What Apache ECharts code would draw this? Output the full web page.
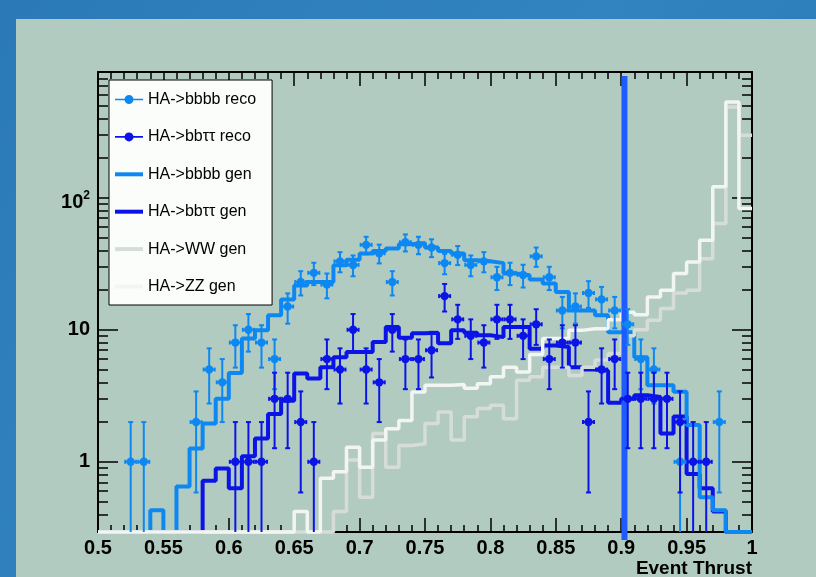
<!DOCTYPE html>
<html><head><meta charset="utf-8">
<script src="https://cdn.jsdelivr.net/npm/echarts@6/dist/echarts.min.js"></script>
<style>html,body{margin:0;padding:0;width:816px;height:577px;overflow:hidden}#c{width:816px;height:577px}</style>
</head><body><div id="c"></div>
<script>
// ---- data (bins of width 0.01, lower edges) ----
const binLowEdges = [0.50,0.51,0.52,0.53,0.54,0.55,0.56,0.57,0.58,0.59,
  0.60,0.61,0.62,0.63,0.64,0.65,0.66,0.67,0.68,0.69,
  0.70,0.71,0.72,0.73,0.74,0.75,0.76,0.77,0.78,0.79,
  0.80,0.81,0.82,0.83,0.84,0.85,0.86,0.87,0.88,0.89,
  0.90,0.91,0.92,0.93,0.94,0.95,0.96,0.97,0.98,0.99];
const binWidth = 0.01;

const bbbbReco = [0,0,1,1,0,0,0,2,5,4,
  8,10,8,6,15,23,27,22,33,31,
  44,38,23,46,44,42,32,37,31,33,
  25,27,26,36,25,14,15,19,17,14,
  11,6,5,0,1,0,0,2,0,0];
const bbttReco = [0,0,0,0,0,0,0,0,0,0,
  1,1,1,3,3,2,1,6,5,10,
  5,4,10,6,6,7,18,12,9,8,
  12,12,9,11,6,8,8,2,5,6,
  3,3,3,3,2,1,1,0,0,0];
const bbbbGen = [0,0,0,0,0.43,0,0.65,1.26,1.95,3.0,
  4.7,8.6,9.9,12.9,17,21.7,23,23,30.8,34,
  37.8,39.5,41.2,44.4,45.5,42,39.5,37.8,33.6,33,
  32,26.7,25.9,24,22.4,19.3,14,14,12.9,9.6,
  9.6,6.2,3.8,3.8,3.4,1.9,0.54,0.43,0,0];
const bbttGen = [0,0,0,0,0,0,0,0,0.72,0.89,
  0.63,1.1,1.5,2.3,2.9,4.66,4.27,5.2,6.2,6.8,
  6.8,8.1,10.5,8.7,9.4,9.5,7.9,9.9,9.5,9.1,
  8.8,10.5,10.5,7.2,7.6,7.4,5.2,5.0,4.9,2.8,
  3.0,3.2,3.1,1.64,2.2,0.81,0.63,0.42,0,0];
const wwGen = [0,0,0,0,0,0,0,0,0,0,
  0,0,0,0,0,0,0,0,0.42,1.03,
  0.54,1.64,0.91,1.33,1.37,1.95,2.38,1.46,2.19,2.53,
  2.68,2.12,4.14,4.4,5.2,5.2,4.5,5.2,5.9,6.6,
  9,10,11.8,14.5,19,19.9,34.6,63.8,488,297];
const zzGen = [0,0,0,0,0,0,0,0,0,0,
  0,0,0,0,0,0.42,0,0.75,0.84,1.29,
  0.91,1.46,1.78,2.06,3.38,3.8,3.8,3.85,3.6,3.9,
  4.4,5.2,4.8,6.5,8.6,8.6,9.9,10.2,10.2,11.9,
  13.6,13,17.7,19.9,26.7,32.6,47.6,121,532,82.8];

const cutValue = 0.9025;           // vertical cut line position
const cutLineRange = [0.256, 837]; // its vertical extent
const xMin = 0.5, xMax = 1.0, xInterval = 0.05;
const yMin = 0.294, yMax = 897;
const yMajorTicks = [1, 10, 100];
const yMinorTicks = [0.3,0.4,0.5,0.6,0.7,0.8,0.9,2,3,4,5,6,7,8,9,
  20,30,40,50,60,70,80,90,200,300,400,500,600,700,800];

// ---- helpers ----
const FONT = 'Liberation Sans, Arial, Helvetica, sans-serif';
function stepData(vals){
  const d = binLowEdges.map((e,i)=>[e, vals[i] > 0 ? vals[i] : yMin]);
  d.push([xMax, vals[vals.length-1] > 0 ? vals[vals.length-1] : yMin]);
  return d;
}
function recoData(counts){
  const out = [];
  counts.forEach((n,i)=>{ if(n>0) out.push([binLowEdges[i] + binWidth/2, n]); });
  return out;
}
function renderReco(params, api){
  const x = api.value(0), v = api.value(1);
  const err = Math.sqrt(v);
  const c = api.coord([x, v]);
  const t = api.coord([x, v + err]);
  const lo = v - err;
  const b = api.coord([x, lo > yMin ? lo : yMin]);
  const col = api.visual('color');
  const st = {stroke: col, lineWidth: 2};
  const ch = [
    {type:'line', shape:{x1:c[0], y1:t[1], x2:c[0], y2:b[1]}, style:st},
    {type:'line', shape:{x1:c[0]-2.5, y1:t[1], x2:c[0]+2.5, y2:t[1]}, style:st},
    {type:'line', shape:{x1:c[0]-5.5, y1:c[1], x2:c[0]+5.5, y2:c[1]}, style:st},
    {type:'line', shape:{x1:c[0]-5.5, y1:c[1]-2, x2:c[0]-5.5, y2:c[1]+2}, style:st},
    {type:'line', shape:{x1:c[0]+5.5, y1:c[1]-2, x2:c[0]+5.5, y2:c[1]+2}, style:st},
    {type:'circle', shape:{cx:c[0], cy:c[1], r:4.2}, style:{fill:col}}
  ];
  if (lo > yMin) ch.push({type:'line', shape:{x1:c[0]-2.5, y1:b[1], x2:c[0]+2.5, y2:b[1]}, style:st});
  return {type:'group', children: ch};
}

const C_LB = '#0d88f2', C_DB = '#0b14e6', C_WW = '#d6ddd8', C_ZZ = '#f2f5f2', C_CUT = '#1f5bff';
const names = ['HA->bbbb reco','HA->bbττ reco','HA->bbbb gen','HA->bbττ gen','HA->WW gen','HA->ZZ gen'];
const recoIcon = 'path://M0,4.2h28v1.6h-28z M9.5,5a4.5,4.5 0 1,1 9,0a4.5,4.5 0 1,1 -9,0z M13.3,0.5h1.4v9h-1.4z';
const genIcon = 'path://M0,0h28v4h-28z';

const tickStyle = {color:'#000', width:1.5};
const axisLineStyle = {color:'#000', width:2};
const logAxisBase = {type:'log', logBase:10, min:yMin, max:yMax, splitLine:{show:false}, minorTick:{show:false}, minorSplitLine:{show:false}};
const xAxisBase = {type:'value', min:xMin, max:xMax, interval:xInterval, splitLine:{show:false}, minorSplitLine:{show:false},
  axisLine:{show:true, lineStyle:axisLineStyle},
  axisTick:{show:true, inside:true, length:14, lineStyle:tickStyle},
  minorTick:{show:true, splitNumber:5, length:7, lineStyle:tickStyle}};

const option = {
  animation:false,
  backgroundColor:{type:'linear', x:0, y:0, x2:1, y2:1, colorStops:[
    {offset:0, color:'#2b7ab7'},{offset:0.5, color:'#3184c0'},{offset:1, color:'#2676b3'}]},
  graphic:[{type:'rect', z:-100, silent:true, shape:{x:16, y:19, width:800, height:558}, style:{fill:'#b2cbc1'}}],
  grid:{left:98, right:64, top:72, bottom:45, outerBoundsMode:'none', containLabel:false},
  legend:{
    orient:'vertical', left:109, top:80, padding:[10,16,9,6], itemGap:18.4,
    itemWidth:28, itemHeight:9, symbolKeepAspect:true, selectedMode:false,
    backgroundColor:'#fbfdfb', borderColor:'#000', borderWidth:1, borderRadius:0,
    textStyle:{fontFamily:FONT, fontSize:16, color:'#000', lineHeight:19},
    data:[
      {name:names[0], icon:recoIcon}, {name:names[1], icon:recoIcon},
      {name:names[2], icon:genIcon}, {name:names[3], icon:genIcon},
      {name:names[4], icon:genIcon}, {name:names[5], icon:genIcon}]
  },
  xAxis:[
    Object.assign({}, xAxisBase, {position:'bottom',
      axisLabel:{show:true, margin:6, color:'#000', fontFamily:FONT, fontSize:20, fontWeight:'bold'},
      name:'Event Thrust', nameLocation:'end', nameGap:0,
      nameTextStyle:{color:'#000', fontFamily:FONT, fontSize:19, fontWeight:'bold', align:'right', verticalAlign:'top', padding:[27,0,0,0]}}),
    Object.assign({}, xAxisBase, {position:'top', axisLabel:{show:false}})
  ],
  yAxis:[
    Object.assign({}, logAxisBase, {position:'left',
      axisLine:{show:true, lineStyle:axisLineStyle},
      axisTick:{show:true, inside:true, length:20, customValues:yMajorTicks, lineStyle:tickStyle},
      axisLabel:{show:true, customValues:yMajorTicks, margin:8, color:'#000',
        formatter:function(v){ const r = Math.round(v); return r === 100 ? '{p|10}{s|2}' : '{b|' + r + '}'; },
        rich:{b:{fontFamily:FONT, fontSize:20, fontWeight:'bold', color:'#000'},
              p:{fontFamily:FONT, fontSize:20, fontWeight:'bold', color:'#000', padding:[9,0,0,0]},
              s:{fontFamily:FONT, fontSize:12, fontWeight:'bold', color:'#000', padding:[0,0,5,0]}}}}),
    Object.assign({}, logAxisBase, {position:'left', axisLine:{show:false},
      axisTick:{show:true, inside:true, length:10, customValues:yMinorTicks, lineStyle:tickStyle}, axisLabel:{show:false}}),
    Object.assign({}, logAxisBase, {position:'right', axisLine:{show:true, lineStyle:axisLineStyle},
      axisTick:{show:true, inside:true, length:20, customValues:yMajorTicks, lineStyle:tickStyle}, axisLabel:{show:false}}),
    Object.assign({}, logAxisBase, {position:'right', axisLine:{show:false},
      axisTick:{show:true, inside:true, length:10, customValues:yMinorTicks, lineStyle:tickStyle}, axisLabel:{show:false}})
  ],
  series:[
    {type:'line', name:names[3], data:stepData(bbttGen), step:'end', symbol:'none', clip:false, z:2, silent:true,
      itemStyle:{color:C_DB}, lineStyle:{color:C_DB, width:4}},
    {type:'line', name:names[2], data:stepData(bbbbGen), step:'end', symbol:'none', clip:false, z:2, silent:true,
      itemStyle:{color:C_LB}, lineStyle:{color:C_LB, width:4}},
    {type:'line', name:names[4], data:stepData(wwGen), step:'end', symbol:'none', clip:false, z:2, silent:true,
      itemStyle:{color:C_WW}, lineStyle:{color:C_WW, width:3.5}},
    {type:'line', name:names[5], data:stepData(zzGen), step:'end', symbol:'none', clip:false, z:2, silent:true,
      itemStyle:{color:C_ZZ}, lineStyle:{color:C_ZZ, width:3.5}},
    {type:'line', name:'cut', data:[[cutValue, cutLineRange[0]],[cutValue, cutLineRange[1]]], symbol:'none', clip:false, z:3, silent:true,
      lineStyle:{color:C_CUT, width:6}},
    {type:'custom', name:names[0], data:recoData(bbbbReco), renderItem:renderReco, z:4, silent:true, itemStyle:{color:C_LB}},
    {type:'custom', name:names[1], data:recoData(bbttReco), renderItem:renderReco, z:5, silent:true, itemStyle:{color:C_DB}}
  ]
};
const chart = echarts.init(document.getElementById('c'), null, {renderer:'canvas', width:816, height:577});
chart.setOption(option);
</script></body></html>
